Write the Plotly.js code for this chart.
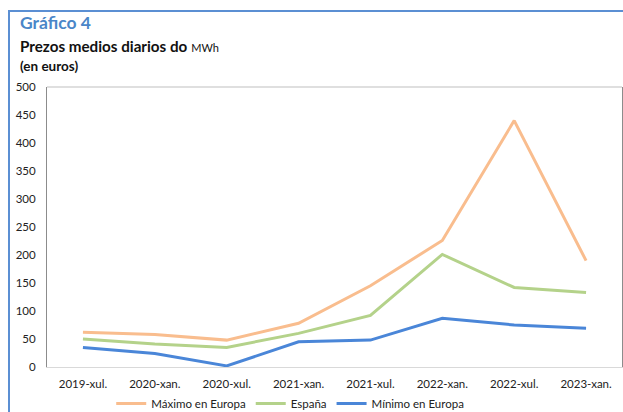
<!DOCTYPE html>
<html>
<head>
<meta charset="utf-8">
<script src="https://cdn.plot.ly/plotly-3.0.1.min.js"></script>
<style>
html,body{margin:0;padding:0;background:#fff;}
#chart{width:623px;height:412px;position:absolute;left:0;top:0;}
#frame{position:absolute;left:8px;top:10px;width:615px;height:402px;border-top:2px solid #5b8fd3;border-left:2px solid #5b8fd3;pointer-events:none;box-sizing:border-box;}
</style>
</head>
<body>
<div id="chart"></div>
<div id="frame"></div>
<script>
const categories = ["2019-xul.","2020-xan.","2020-xul.","2021-xan.","2021-xul.","2022-xan.","2022-xul.","2023-xan."];
const maximoEuropa = [62, 58, 48, 78, 145, 226, 440, 190];
const espana = [50, 41, 35, 60, 92, 201, 142, 133];
const minimoEuropa = [35, 24, 2, 45, 48, 87, 75, 69];
const yTicks = [0,50,100,150,200,250,300,350,400,450,500];

const font = "Lato, 'Open Sans', sans-serif";
const traces = [
  {x: categories, y: maximoEuropa, name: "Máximo en Europa", type: "scatter", mode: "lines", line: {color: "#f9bd8e", width: 3}},
  {x: categories, y: espana, name: "España", type: "scatter", mode: "lines", line: {color: "#b4d28a", width: 3}},
  {x: categories, y: minimoEuropa, name: "Mínimo en Europa", type: "scatter", mode: "lines", line: {color: "#4a86d8", width: 3}}
];

const layout = {
  width: 623, height: 412,
  margin: {l: 47, r: 1, t: 87, b: 45, autoexpand: false},
  paper_bgcolor: "#fff", plot_bgcolor: "#fff",
  font: {family: font, size: 11.5, color: "#222"},
  showlegend: true,
  legend: {orientation: "h", x: 0.423, xanchor: "center", y: -0.13, yanchor: "middle", font: {size: 11.5, color: "#222"}, itemwidth: 30, tracegroupgap: 0},
  xaxis: {
    type: "category", range: [-0.5, 7.5], showgrid: false, showline: true, linecolor: "#d9d9d9", linewidth: 1, mirror: false,
    ticks: "outside", ticklen: 6, tickcolor: "rgba(0,0,0,0)", tickfont: {size: 11.5, color: "#222"}, fixedrange: true
  },
  yaxis: {
    range: [0, 500], tickvals: yTicks, ticktext: yTicks.map(String), showgrid: false, zeroline: false,
    showline: true, linecolor: "#8c8c8c", linewidth: 1, mirror: true,
    ticks: "outside", ticklen: 8, tickcolor: "rgba(0,0,0,0)", tickfont: {size: 11.5, color: "#222"}, fixedrange: true
  },
  shapes: [
    {type: "line", xref: "paper", yref: "paper", x0: 0, x1: 1, y0: 1, y1: 1, line: {color: "#bfbfbf", width: 1}}
  ],
  annotations: [
    {text: "<b>Gráfico 4</b>", xref: "paper", yref: "paper", x: -0.05, y: 1, xanchor: "left", yanchor: "middle", yshift: 65, showarrow: false, font: {family: font, size: 17.5, color: "#4a86c8"}},
    {text: "<b>Prezos medios diarios do</b> <span style='font-size:11px'>MWh</span>", xref: "paper", yref: "paper", x: -0.05, y: 1, xanchor: "left", yanchor: "middle", yshift: 41, showarrow: false, font: {family: font, size: 15.2, color: "#111"}},
    {text: "<b>(en euros)</b>", xref: "paper", yref: "paper", x: -0.05, y: 1, xanchor: "left", yanchor: "middle", yshift: 21, showarrow: false, font: {family: font, size: 13.5, color: "#111"}}
  ]
};

Plotly.newPlot("chart", traces, layout, {displayModeBar: false, staticPlot: true});
</script>
</body>
</html>
